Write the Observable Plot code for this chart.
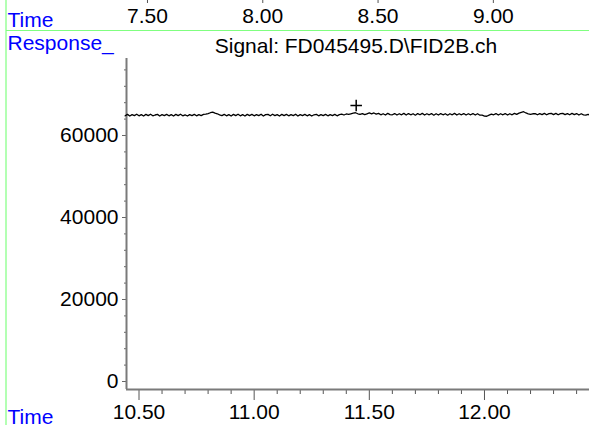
<!DOCTYPE html>
<html>
<head>
<meta charset="utf-8">
<script src="https://cdn.jsdelivr.net/npm/d3@7"></script>
<script src="https://cdn.jsdelivr.net/npm/@observablehq/plot@0.6"></script>
<style>
  html, body { margin: 0; padding: 0; background: #fff; }
  #wrap { position: relative; width: 589px; height: 425px; overflow: hidden; font-family: "Liberation Sans", Arial, sans-serif; }
  #wrap > svg, #wrap > div { position: absolute; left: 0; top: 0; }
  svg { overflow: visible; }
</style>
</head>
<body>
<div id="wrap"></div>
<script>
// ---- data ----
const title = "Signal: FD045495.D\\FID2B.ch";
const timeLabel = "Time";
const responseLabel = "Response_";

const times = [
10.44,10.45,10.46,10.47,10.48,10.49,10.50,10.51,10.52,10.53,
10.54,10.55,10.56,10.57,10.58,10.59,10.60,10.61,10.62,10.63,
10.64,10.65,10.66,10.67,10.68,10.69,10.70,10.71,10.72,10.73,
10.74,10.75,10.76,10.77,10.78,10.79,10.80,10.81,10.82,10.83,
10.84,10.85,10.86,10.87,10.88,10.89,10.90,10.91,10.92,10.93,
10.94,10.95,10.96,10.97,10.98,10.99,11.00,11.01,11.02,11.03,
11.04,11.05,11.06,11.07,11.08,11.09,11.10,11.11,11.12,11.13,
11.14,11.15,11.16,11.17,11.18,11.19,11.20,11.21,11.22,11.23,
11.24,11.25,11.26,11.27,11.28,11.29,11.30,11.31,11.32,11.33,
11.34,11.35,11.36,11.37,11.38,11.39,11.40,11.41,11.42,11.43,
11.44,11.45,11.46,11.47,11.48,11.49,11.50,11.51,11.52,11.53,
11.54,11.55,11.56,11.57,11.58,11.59,11.60,11.61,11.62,11.63,
11.64,11.65,11.66,11.67,11.68,11.69,11.70,11.71,11.72,11.73,
11.74,11.75,11.76,11.77,11.78,11.79,11.80,11.81,11.82,11.83,
11.84,11.85,11.86,11.87,11.88,11.89,11.90,11.91,11.92,11.93,
11.94,11.95,11.96,11.97,11.98,11.99,12.00,12.01,12.02,12.03,
12.04,12.05,12.06,12.07,12.08,12.09,12.10,12.11,12.12,12.13,
12.14,12.15,12.16,12.17,12.18,12.19,12.20,12.21,12.22,12.23,
12.24,12.25,12.26,12.27,12.28,12.29,12.30,12.31,12.32,12.33,
12.34,12.35,12.36,12.37,12.38,12.39,12.40,12.41,12.42,12.43,
12.44,12.45,12.46
];
const response = [
64800,65150,64750,65100,64850,65200,64800,65100,64750,65150,
64850,65200,64800,65000,65150,64750,65100,64850,65150,64800,
65100,64750,65150,64850,65200,64800,65050,64750,65100,64850,
65150,64800,65100,64850,65150,65200,65350,65550,65700,65450,
65300,65050,64850,65150,64800,65100,64750,65150,64850,65200,
64800,65100,64750,65150,64850,65150,64800,65100,64850,65200,
64750,65100,65150,64800,65200,64850,65100,64750,65150,64850,
65150,64800,65100,64850,65200,64750,65100,64850,65150,64800,
65100,64750,65050,65150,64800,65100,64850,65150,64800,65100,
64850,65150,64800,65100,65200,65000,65250,65150,65300,65450,
65550,65300,65150,65350,65100,65300,65500,65300,65500,65200,
65400,65050,65300,65000,65400,65100,65050,65350,65000,65300,
65050,65400,65000,65350,65050,65300,64950,65350,65050,65400,
65000,65300,65050,65350,64950,65300,65000,65350,65050,65300,
64950,65300,65050,65400,65000,65300,65050,65350,65000,65300,
65050,65350,65000,65300,64950,64950,64750,64700,64950,65200,
65050,65350,65000,65300,65050,65350,65000,65300,65050,65400,
65150,65450,65650,65800,65500,65300,65150,65300,65350,65050,
65350,65100,65400,65050,65350,65400,65100,65400,65050,65350,
65400,65100,65350,65050,65400,65100,65350,65000,65300,65050,
64950,65150,64900
];
const markerTime = [11.443];
const markerResp = [67300];

const xMajor = [10.5, 11.0, 11.5, 12.0];
const xMinor = [10.6,10.7,10.8,10.9,11.1,11.2,11.3,11.4,11.6,11.7,11.8,11.9,12.1,12.2,12.3,12.4];
const yMajor = [0, 20000, 40000, 60000];
const yMinor = [4000,8000,12000,16000,24000,28000,32000,36000,44000,48000,52000,56000,64000,68000,72000,76000];
const topTicks = [7.5, 8.0, 8.5, 9.0];

const xDomain = [10.4457, 12.456];
const yDomain = [-1950, 78780];
const topDomain = [7.409, 9.417];

// ---- build ----
const font = "Liberation Sans, Arial, sans-serif";
const fmt2 = d3.format(".2f");
const data = times.map((t, i) => ({t, v: response[i]}));
const marker = markerTime.map((t, i) => ({t, v: markerResp[i]}));
const wrap = document.getElementById("wrap");

const mainPlot = Plot.plot({
  width: 589, height: 425,
  marginLeft: 126, marginRight: 0, marginTop: 58, marginBottom: 36,
  style: {fontFamily: font, fontSize: "21px", background: "transparent"},
  x: {domain: xDomain, label: null},
  y: {domain: yDomain, label: null},
  marks: [
    Plot.axisY({ticks: yMinor, tickSize: 2, tickFormat: () => "", stroke: "#666", label: null}),
    Plot.axisY({ticks: yMajor, tickSize: 4, tickPadding: 4, tickFormat: d => String(d), fontSize: 21, stroke: "#666", fill: "black", label: null}),
    Plot.axisX({ticks: xMinor, tickSize: 5, tickFormat: () => "", stroke: "#555", label: null}),
    Plot.axisX({ticks: xMajor, tickSize: 11, tickPadding: 4, tickFormat: fmt2, fontSize: 21, stroke: "#555", fill: "black", label: null}),
    Plot.ruleX([xDomain[0]], {stroke: "#7a7a7a", strokeWidth: 2}),
    Plot.ruleY([yDomain[0]], {stroke: "#7a7a7a", strokeWidth: 2}),
    Plot.line(data, {x: "t", y: "v", stroke: "black", strokeWidth: 1.3}),
    Plot.dot(marker, {x: "t", y: "v", symbol: "plus", r: 3.8, stroke: "black", strokeWidth: 1.5})
  ]
});
wrap.appendChild(mainPlot);

const topPlot = Plot.plot({
  width: 589, height: 30,
  marginLeft: 126, marginRight: 0, marginTop: 0, marginBottom: 27,
  style: {fontFamily: font, fontSize: "21px", background: "transparent"},
  x: {domain: topDomain, axis: null},
  marks: [
    Plot.tickX(topTicks, {x: d => d, stroke: "#555", strokeWidth: 1}),
    Plot.text(topTicks, {x: d => d, text: d => fmt2(d), frameAnchor: "bottom", lineAnchor: "bottom", dy: 19.7, fontSize: 21, fill: "black"})
  ]
});
wrap.appendChild(topPlot);

// decorations: green guide lines and blue labels
const deco = d3.create("svg").attr("width", 589).attr("height", 425)
  .style("font-family", font).style("font-size", "21px");
deco.append("line").attr("x1", 6).attr("x2", 6).attr("y1", 0).attr("y2", 425)
  .attr("stroke", "#80ff80").attr("stroke-width", 1.2);
deco.append("line").attr("x1", 6).attr("x2", 589).attr("y1", 30.5).attr("y2", 30.5)
  .attr("stroke", "#80ff80").attr("stroke-width", 1.2);
deco.append("text").attr("x", 7.5).attr("y", 26.7).attr("fill", "#0000ff").text(timeLabel);
deco.append("text").attr("x", 7.5).attr("y", 50).attr("fill", "#0000ff").text(responseLabel);
deco.append("text").attr("x", 7.5).attr("y", 423.5).attr("fill", "#0000ff").text(timeLabel);
deco.append("text").attr("x", 356).attr("y", 52.6).attr("text-anchor", "middle").attr("fill", "black").text(title);
wrap.appendChild(deco.node());
</script>
</body>
</html>
